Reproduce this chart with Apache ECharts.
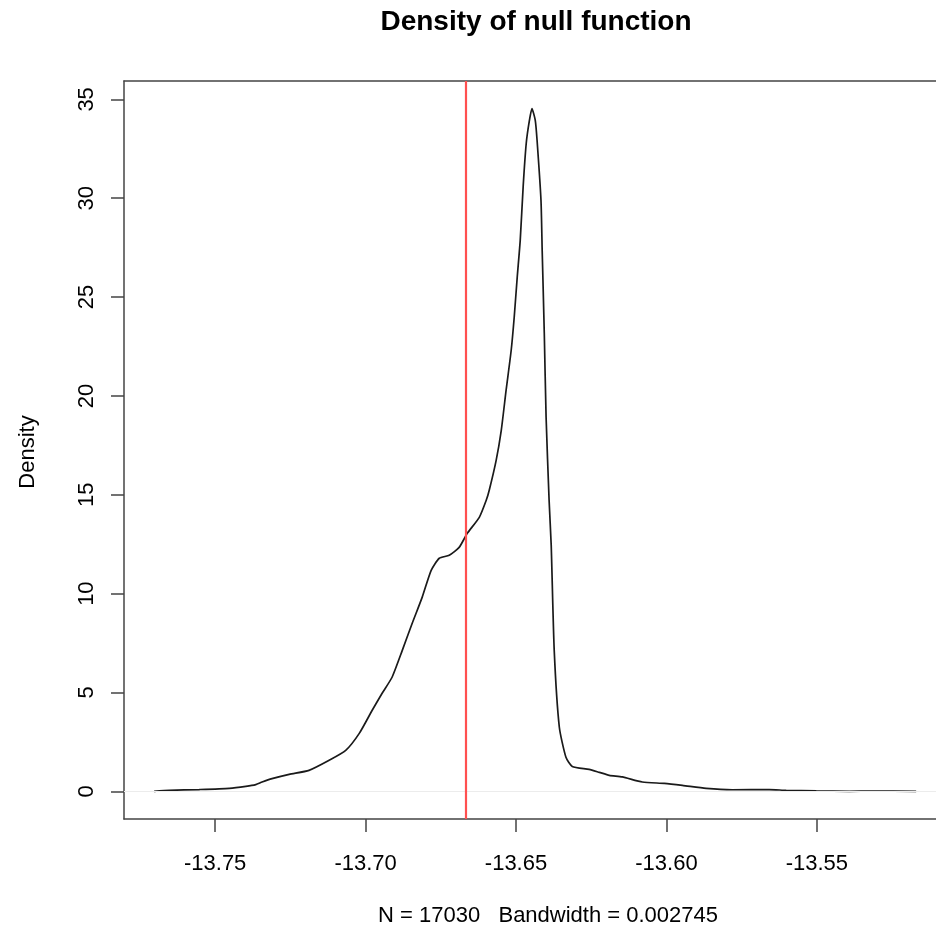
<!DOCTYPE html>
<html>
<head>
<meta charset="utf-8">
<script src="https://cdn.jsdelivr.net/npm/echarts@6/dist/echarts.min.js"></script>
<style>html,body{margin:0;padding:0;background:#fff}#c{width:936px;height:932px}</style>
</head>
<body>
<div id="c"></div>
<script>
var densityX = [-13.7703,-13.7653,-13.7553,-13.7453,-13.7398,-13.7365,-13.7344,-13.7311,-13.7254,-13.7188,-13.7121,-13.7066,-13.7021,-13.6978,-13.6945,-13.6912,-13.6878,-13.6845,-13.6812,-13.6782,-13.6755,-13.6722,-13.6689,-13.6662,-13.6622,-13.6599,-13.6589,-13.6566,-13.6549,-13.6533,-13.6516,-13.6506,-13.6496,-13.6486,-13.6476,-13.6466,-13.6456,-13.6447,-13.6436,-13.6430,-13.6417,-13.6413,-13.6406,-13.6400,-13.6390,-13.6383,-13.6373,-13.6356,-13.6334,-13.6313,-13.6257,-13.6223,-13.6190,-13.6147,-13.6080,-13.6007,-13.5947,-13.5868,-13.5781,-13.5658,-13.5602,-13.5502,-13.5392,-13.5316,-13.5170];
var densityY = [0.00,0.05,0.09,0.15,0.25,0.34,0.47,0.64,0.86,1.06,1.57,2.07,2.93,4.10,4.96,5.77,7.13,8.50,9.81,11.18,11.79,11.94,12.34,13.05,13.86,14.72,15.23,16.74,18.26,20.28,22.31,23.98,26.00,27.87,30.65,32.78,33.89,34.53,33.94,32.93,29.90,27.36,23.17,18.92,14.72,12.44,7.13,3.24,1.72,1.26,1.11,0.96,0.81,0.73,0.47,0.40,0.30,0.15,0.08,0.09,0.05,0.02,0.00,0.01,0.00];
var xTicks = [-13.75,-13.70,-13.65,-13.60,-13.55];
var yTicks = [0,5,10,15,20,25,30,35];
var nullValue = -13.6666;
var titleText = 'Density of null function';
var xLabelText = 'N = 17030   Bandwidth = 0.002745';
var yLabelText = 'Density';

var pts = densityX.map(function(x,i){return [x, densityY[i]];});
var font = 'Liberation Sans, Arial, Helvetica, sans-serif';
var xMin = -13.7803, xMax = -13.5104;
var axisColor = '#444';
var chart = echarts.init(document.getElementById('c'), null, {renderer:'canvas'});
chart.setOption({
  animation:false,
  backgroundColor:'#fff',
  grid:{left:124, top:81, right:0, height:738, show:false},
  xAxis:[{type:'value', min:xMin, max:xMax, position:'bottom',
    axisLine:{show:true, onZero:false, lineStyle:{color:axisColor, width:1.5}},
    axisTick:{show:true, length:13, customValues:xTicks, lineStyle:{color:axisColor, width:1.5}},
    axisLabel:{show:true, customValues:xTicks, margin:34, fontFamily:font, fontSize:22, color:'#000', lineHeight:22,
      formatter:function(v){return v.toFixed(2);}},
    splitLine:{show:false}},
    {type:'value', min:xMin, max:xMax, position:'top',
    axisLine:{show:true, onZero:false, lineStyle:{color:axisColor, width:1.5}},
    axisTick:{show:false}, axisLabel:{show:false}, splitLine:{show:false}}],
  yAxis:{type:'value', min:-1.40, max:35.93,
    axisLine:{show:true, onZero:false, lineStyle:{color:axisColor, width:1.5}},
    axisTick:{show:true, length:13, customValues:yTicks, lineStyle:{color:axisColor, width:1.5}},
    axisLabel:{show:true, customValues:yTicks, rotate:90, margin:26, fontFamily:font, fontSize:22, color:'#000', lineHeight:22,
      formatter:function(v){return String(Math.round(v));}},
    splitLine:{show:false}},
  series:[{
    type:'line', data:pts, showSymbol:false, smooth:0.2, xAxisIndex:0,
    lineStyle:{color:'#1a1a1a', width:1.7},
    markLine:{silent:true, symbol:'none', precision:6, label:{show:false}, animation:false,
      data:[
        {yAxis:0, lineStyle:{color:'#ececec', width:1, type:'solid'}},
        {xAxis:nullValue, lineStyle:{color:'#ff5050', width:2.2, type:'solid'}}
      ]}
  }],
  graphic:[
    {type:'text', x:536, y:22, style:{text:titleText, font:'bold 28px '+font, fill:'#000', align:'center', verticalAlign:'middle'}},
    {type:'text', x:548, y:916, style:{text:xLabelText, font:'22px '+font, fill:'#000', align:'center', verticalAlign:'middle'}},
    {type:'text', x:28, y:452, rotation:Math.PI/2, style:{text:yLabelText, font:'22px '+font, fill:'#000', align:'center', verticalAlign:'middle'}}
  ]
});
</script>
</body>
</html>
